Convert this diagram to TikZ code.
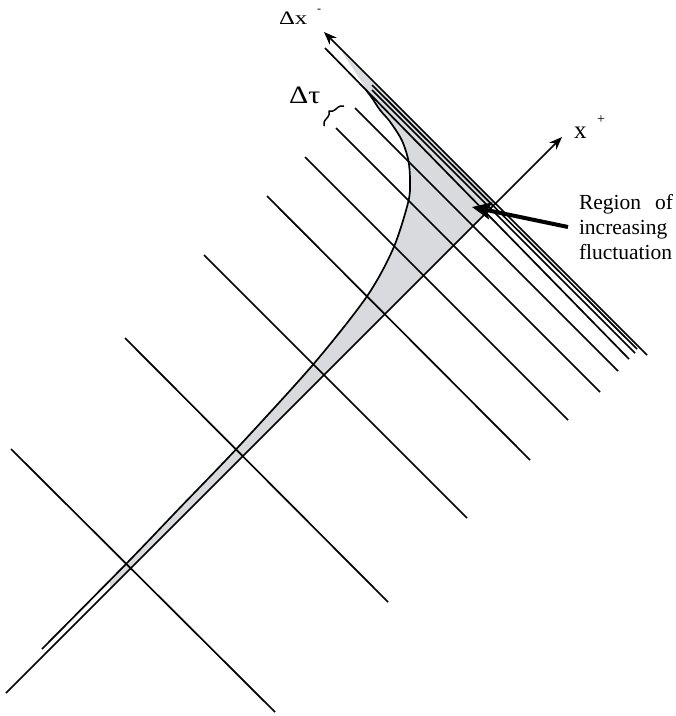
\documentclass[tikz,border=0pt]{standalone}
\usepackage{fontspec}
\usepackage{graphicx}
\setmainfont{Liberation Serif}
\usetikzlibrary{arrows.meta,decorations.pathreplacing}
\definecolor{fluctgray}{RGB}{217,218,221}
\tikzset{
  ln/.style={line width=1.7pt},
  axisarrow/.style={ln,-{Stealth[length=13pt,width=10pt]}},
  pointer/.style={line width=4pt,-{Stealth[length=19pt,width=17pt,inset=4pt]}},
  lbl/.style={inner sep=0pt,outer sep=0pt}
}
\begin{document}
\begin{tikzpicture}[x=1pt,y=-1pt]
\useasboundingbox (0,0) rectangle (676,716);
% key points
\coordinate (O) at (495.5,203.5);
\coordinate (xpS) at (6,693);
\coordinate (xpE) at (562,137);
\coordinate (xmS) at (647,355);
\coordinate (xmE) at (324,32);
% shaded region
\fill[fluctgray] plot[smooth] coordinates {(110,580.2) (126.7,563.3) (178.7,509) (237,448.3) (313.3,364.3) (366.7,296.7) (393.3,248.3) (408.3,201.7) (410,180) (408.3,160) (401.7,140) (390,121.7) (380,110) (372,98)} -- (342,52) -- (O) -- (110,589) -- cycle;
% curve
\draw[ln] plot[smooth] coordinates {(42,649) (126.7,563.3) (178.7,509) (237,448.3) (313.3,364.3) (366.7,296.7) (393.3,248.3) (408.3,201.7) (410,180) (408.3,160) (401.7,140) (390,121.7) (380,110) (372,98) (366,90)};
% axes
\draw[axisarrow] (xpS) -- (xpE);
\draw[axisarrow] (xmS) -- (xmE);
% lines of constant x+
\draw[ln] (372,85) -- (637,349);
\draw[ln] (372,90) -- (635,353);
\draw[ln] (325,48) -- (629,359);
\draw[ln] (355,108) -- (618,371);
\draw[ln] (336,128) -- (600,392);
\draw[ln] (305,157) -- (568,420);
\draw[ln] (267,196) -- (530,460);
\draw[ln] (204,255) -- (467,518);
\draw[ln] (125,338) -- (388,602);
\draw[ln] (11,449) -- (275,712);
% brace
\draw[line width=1.5pt, decorate, decoration={brace, amplitude=7pt}] (324,126) -- (344,106);
% labels
\node[lbl, anchor=base west, font=\fontsize{19}{19}\selectfont] (dx) at (279,24) {\scalebox{1.3}[1]{Δx}};
\node[lbl, font=\fontsize{12}{12}\selectfont] (dxm) at (319,11) {-};
\node[lbl, anchor=base west, font=\fontsize{25}{25}\selectfont] (dtau) at (289,103) {\scalebox{1.2}[1]{Δτ}};
\node[lbl, anchor=base west, font=\fontsize{25}{25}\selectfont] (xp) at (574,138) {x};
\node[lbl, font=\fontsize{14}{14}\selectfont] (xpp) at (601,120) {+};
\node[lbl, anchor=north west, align=left, font=\fontsize{21.5}{25}\selectfont] (reg) at (579,194) {\makebox[94pt][s]{Region\hfil of}\\increasing\\fluctuation};
% pointer
\coordinate (ptail) at (568,227);
\coordinate (phead) at (472,207);
\draw[pointer] (ptail) -- (phead);
\end{tikzpicture}
\end{document}
